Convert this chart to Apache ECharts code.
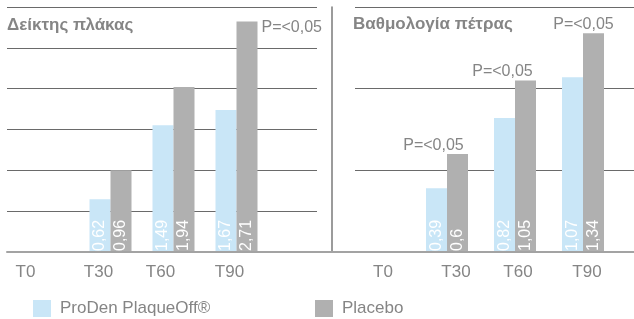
<!DOCTYPE html>
<html><head><meta charset="utf-8">
<script src="https://cdn.jsdelivr.net/npm/echarts@6/dist/echarts.min.js"></script>
<style>html,body{margin:0;padding:0;background:#fff}#c{width:634px;height:319px}</style>
</head><body><div id="c"></div>
<script>
// ---- data ----
const categories = ['T0', 'T30', 'T60', 'T90'];
const plaqueProDen = [null, 0.62, 1.49, 1.67];
const plaquePlacebo = [null, 0.96, 1.94, 2.71];
const stoneProDen = [null, 0.39, 0.82, 1.07];
const stonePlacebo = [null, 0.6, 1.05, 1.34];
const plaqueSignificant = [false, false, false, true];
const stoneSignificant = [false, true, true, true];
const panelTitles = ['Δείκτης πλάκας', 'Βαθμολογία πέτρας'];
const seriesNames = ['ProDen PlaqueOff®', 'Placebo'];
const pLabel = 'P=<0,05';
const plaqueAxis = { min: 0, max: 2.88, interval: 0.48 };
const stoneAxis = { min: 0, max: 1.5, interval: 0.5 };

// ---- style ----
const FONT = 'Liberation Sans, Arial, sans-serif';
const BLUE = '#c9e6f7';
const GRAY = '#b0b0b0';
const TEXT = '#858585';
const TOP = 7, H = 245;

const fmtVal = p => (p.value == null ? '' : String(p.value).replace('.', ','));

function shiftedLabels(shifts) {
  const rich = {};
  shifts.forEach((s, i) => {
    rich['s' + i] = {
      fontSize: 17, color: TEXT, fontFamily: FONT,
      padding: s >= 0 ? [0, 0, 0, 2 * s] : [0, -2 * s, 0, 0]
    };
  });
  return {
    show: true, margin: 12, interval: 0,
    formatter: (v, i) => '{s' + i + '|' + v + '}',
    rich
  };
}

function barSeries(name, data, color, xi, yi, extra) {
  return Object.assign({
    name, type: 'bar', xAxisIndex: xi, yAxisIndex: yi,
    data, barWidth: 21, barGap: '0%',
    itemStyle: { color },
    label: {
      show: true, position: 'insideBottom', rotate: 90,
      align: 'left', verticalAlign: 'middle', distance: 1,
      fontSize: 16, color: '#ffffff', fontFamily: FONT,
      formatter: fmtVal
    },
    emphasis: { disabled: true }, animation: false
  }, extra || {});
}

// per-category label nudges (layout only)
function pMarks(values, sig, labelCfg, offsets) {
  return {
    symbol: 'rect', symbolSize: 1, itemStyle: { color: 'rgba(0,0,0,0)' },
    label: Object.assign({ show: true, formatter: pLabel, fontSize: 16, color: TEXT, fontFamily: FONT }, labelCfg),
    data: categories.map((c, i) => (sig[i]
      ? { coord: [i, values[i]], label: { offset: offsets[i] } }
      : null)).filter(Boolean)
  };
}

const hiddenCat = (gi) => ({ type: 'category', gridIndex: gi, data: categories, show: false });
const hiddenVal = (gi, sc) => Object.assign({ type: 'value', gridIndex: gi, show: false }, sc);
const lineVal = (gi, sc) => Object.assign({
  type: 'value', gridIndex: gi,
  axisLine: { show: false }, axisTick: { show: false }, axisLabel: { show: false },
  splitLine: { show: true, lineStyle: { color: '#6a6a6a', width: 1 } }
}, sc);

const option = {
  animation: false,
  textStyle: { fontFamily: FONT },
  title: [
    { text: panelTitles[0], left: 7, top: 17, padding: 0,
      textStyle: { fontSize: 17, fontWeight: 'bold', color: TEXT, fontFamily: FONT } },
    { text: panelTitles[1], left: 353, top: 16, padding: 0,
      textStyle: { fontSize: 17, fontWeight: 'bold', color: TEXT, fontFamily: FONT } }
  ],
  legend: [
    { data: [seriesNames[0]], left: 33, top: 300, padding: 0, icon: 'rect',
      itemWidth: 18, itemHeight: 17, selectedMode: false,
      textStyle: { fontSize: 17, color: TEXT, fontFamily: FONT, padding: [0, 0, 0, 4] } },
    { data: [seriesNames[1]], left: 315, top: 300, padding: 0, icon: 'rect',
      itemWidth: 18, itemHeight: 17, selectedMode: false,
      textStyle: { fontSize: 17, color: TEXT, fontFamily: FONT, padding: [0, 0, 0, 4] } }
  ],
  grid: [
    { left: 7, width: 310, top: TOP, height: H },   // 0 left gridlines
    { left: 16, width: 252, top: TOP, height: H },  // 1 left bars
    { left: 355, right: 0, top: TOP, height: H },   // 2 right gridlines
    { left: 345, width: 272, top: TOP, height: H }, // 3 right bars
    { left: 7, right: 0, top: TOP, height: H },     // 4 baseline
    { left: 332, width: 10, top: TOP, height: H }   // 5 divider
  ],
  xAxis: [
    hiddenCat(0),
    { type: 'category', gridIndex: 1, data: categories,
      axisLine: { show: false }, axisTick: { show: false },
      axisLabel: shiftedLabels([-22, -12, -13, -7]) },
    hiddenCat(2),
    { type: 'category', gridIndex: 3, data: categories,
      axisLine: { show: false }, axisTick: { show: false },
      axisLabel: shiftedLabels([4, 9, 3, 4]) },
    { type: 'category', gridIndex: 4, data: categories, z: 5,
      axisLine: { show: true, lineStyle: { color: '#a3a3a3', width: 2 } },
      axisTick: { show: false }, axisLabel: { show: false }, splitLine: { show: false } },
    hiddenCat(5)
  ],
  yAxis: [
    lineVal(0, plaqueAxis),
    hiddenVal(1, plaqueAxis),
    lineVal(2, stoneAxis),
    hiddenVal(3, stoneAxis),
    hiddenVal(4, { min: 0, max: 1 }),
    { type: 'value', gridIndex: 5, min: 0, max: 1,
      axisLine: { show: true, lineStyle: { color: '#7a7a7a', width: 1.5 } },
      axisTick: { show: false }, axisLabel: { show: false }, splitLine: { show: false } }
  ],
  series: [
    barSeries(seriesNames[0], plaqueProDen, BLUE, 1, 1),
    barSeries(seriesNames[1], plaquePlacebo, GRAY, 1, 1, {
      markPoint: pMarks(plaquePlacebo, plaqueSignificant,
        { position: 'right', distance: 0 }, [null, null, null, [14, 6]])
    }),
    barSeries(seriesNames[0], stoneProDen, BLUE, 3, 3),
    barSeries(seriesNames[1], stonePlacebo, GRAY, 3, 3, {
      markPoint: pMarks(stonePlacebo, stoneSignificant,
        { position: 'top', distance: 0 }, [null, [-24, 0], [-23, 0], [-10, 0]])
    })
  ]
};

const chart = echarts.init(document.getElementById('c'), null, { renderer: 'canvas' });
chart.setOption(option);
</script>
</body></html>
